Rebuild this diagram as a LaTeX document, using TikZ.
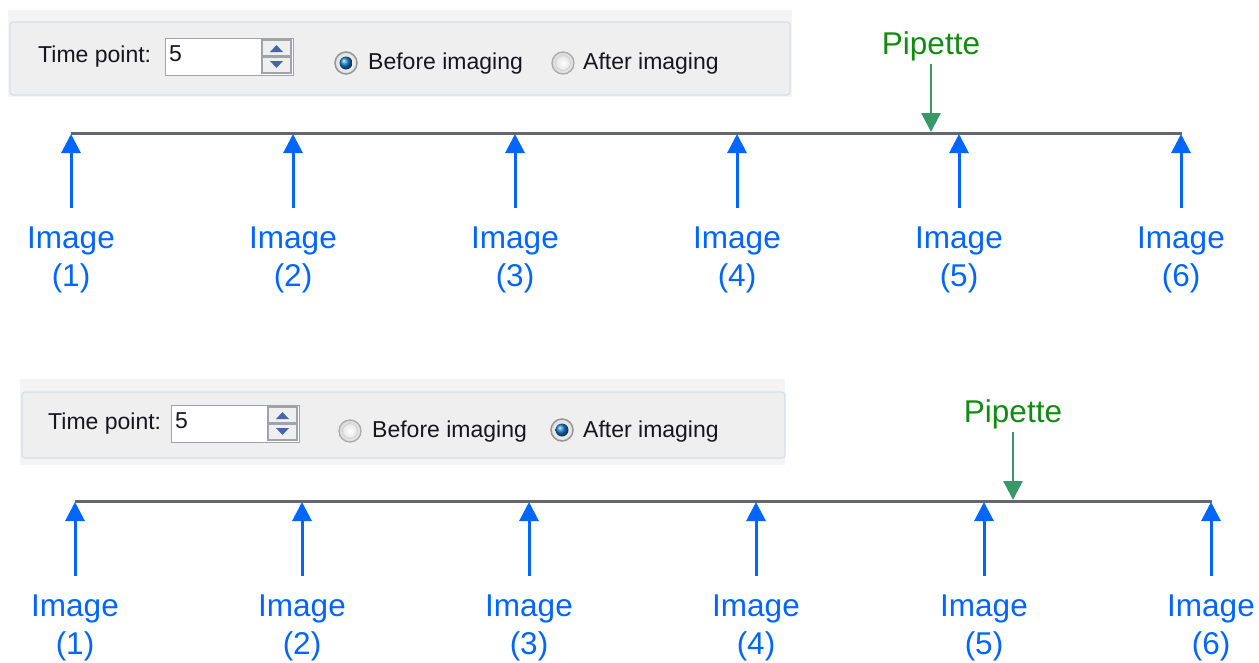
\documentclass[tikz,border=0pt]{standalone}
\usepackage{fontspec}
\setmainfont{Liberation Sans}
\usetikzlibrary{arrows.meta}

\definecolor{imgblue}{RGB}{0,102,255}
\definecolor{pipgreen}{RGB}{16,140,16}
\definecolor{piparrow}{RGB}{56,152,104}
\definecolor{axisgray}{RGB}{100,104,110}
\definecolor{winbg}{RGB}{244,244,244}
\definecolor{panelfill}{RGB}{239,239,239}
\definecolor{panelline}{RGB}{214,222,232}
\definecolor{uitext}{RGB}{22,22,30}
\definecolor{spinline}{RGB}{160,164,170}
\definecolor{spintri}{RGB}{74,100,168}
\definecolor{radioline}{RGB}{150,150,150}
\definecolor{radioblue}{RGB}{20,120,200}

% control strip pieces: spin box and radio buttons
\newcommand{\spinbox}[3]{% #1 = left x, #2 = top y, #3 = value
  \fill[white] (#1,#2) rectangle (#1+128,#2+37);
  \draw[spinline, line width=0.8pt] (#1,#2) rectangle (#1+128,#2+37);
  \node[uilabel] at (#1+4,#2+21) {#3};
  \fill[panelfill] (#1+96,#2+1) rectangle (#1+127,#2+36);
  \draw[spinline, line width=1.2pt] (#1+97,#2+2) rectangle (#1+126,#2+18);
  \draw[spinline, line width=1.2pt] (#1+97,#2+19) rectangle (#1+126,#2+35);
  \fill[spintri] (#1+105,#2+14) -- (#1+118,#2+14) -- (#1+111.5,#2+7) -- cycle;
  \fill[spintri] (#1+105,#2+23) -- (#1+118,#2+23) -- (#1+111.5,#2+30) -- cycle;
}
\newcommand{\radioon}[2]{%
  \shade[inner color=white, outer color=gray!25] (#1,#2) circle (11);
  \draw[radioline, line width=1.5pt] (#1,#2) circle (11);
  \shade[ball color=radioblue] (#1,#2) circle (6.5);
}
\newcommand{\radiooff}[2]{%
  \shade[inner color=white, outer color=gray!30] (#1,#2) circle (11);
  \draw[radioline!80, line width=1.3pt] (#1,#2) circle (11);
  \draw[radioline!45, line width=0.8pt] (#1,#2) circle (7.5);
}

\begin{document}
\begin{tikzpicture}[x=1pt,y=-1pt,
  imglabel/.style={font=\fontsize{31.5}{38}\selectfont, text=imgblue, align=center,
                   inner sep=0pt, anchor=north},
  piplabel/.style={font=\fontsize{31.5}{38}\selectfont, text=pipgreen,
                   inner sep=0pt, anchor=north},
  imgarrow/.style={draw=imgblue, line width=3pt, shorten <=19pt,
                   -{Triangle[width=19pt,length=19pt]}},
  piparrowstyle/.style={draw=piparrow, line width=2.6pt, shorten <=3pt,
                   -{Triangle[width=19pt,length=19pt]}},
  timeline/.style={draw=axisgray, line width=3pt},
  uilabel/.style={font=\fontsize{23}{27}\selectfont, text=uitext, inner sep=0pt, anchor=mid west},
]
\useasboundingbox (0,0) rectangle (1259,662);

% upper strip
\fill[winbg] (8,10) rectangle (792,97);
\draw[panelline, fill=panelfill, line width=1.2pt, rounded corners=3pt] (10,22) rectangle (790,95);
\node[uilabel] (tp1) at (38,60) {Time point:};
\spinbox{165}{38}{5}
\radioon{346}{63}
\node[uilabel] (bi1) at (368,67) {Before imaging};
\radiooff{563}{63}
\node[uilabel] (ai1) at (583,67) {After imaging};

% lower strip
\fill[winbg] (20,379) rectangle (785,465);
\draw[panelline, fill=panelfill, line width=1.2pt, rounded corners=3pt] (22,392) rectangle (785,458);
\node[uilabel] (tp2) at (48,427) {Time point:};
\spinbox{171}{405}{5}
\radiooff{350}{431}
\node[uilabel] (bi2) at (372,435) {Before imaging};
\radioon{562}{430}
\node[uilabel] (ai2) at (583,435) {After imaging};

% upper time line
\coordinate (ta) at (71,133);
\coordinate (tb) at (1182,133);
\draw[timeline] (ta) -- (tb);
\foreach \n/\x in {1/71,2/293,3/515,4/737,5/959,6/1181}{
  \node[imglabel] (ua\n) at (\x,227) {Image\\(\n)};
  \coordinate (ut\n) at (\x,134);
  \draw[imgarrow] (ua\n.north) -- (ut\n);
}
\node[piplabel] (p1) at (931,31) {Pipette};
\coordinate (pt1) at (931,132);
\draw[piparrowstyle] (p1.south) -- (pt1);

% lower time line
\coordinate (ba) at (75,501);
\coordinate (bb) at (1212,501);
\draw[timeline] (ba) -- (bb);
\foreach \n/\x in {1/75,2/302,3/529,4/756,5/984,6/1211}{
  \node[imglabel] (la\n) at (\x,595) {Image\\(\n)};
  \coordinate (lt\n) at (\x,502);
  \draw[imgarrow] (la\n.north) -- (lt\n);
}
\node[piplabel] (p2) at (1013,399) {Pipette};
\coordinate (pt2) at (1013,500);
\draw[piparrowstyle] (p2.south) -- (pt2);
\end{tikzpicture}
\end{document}
